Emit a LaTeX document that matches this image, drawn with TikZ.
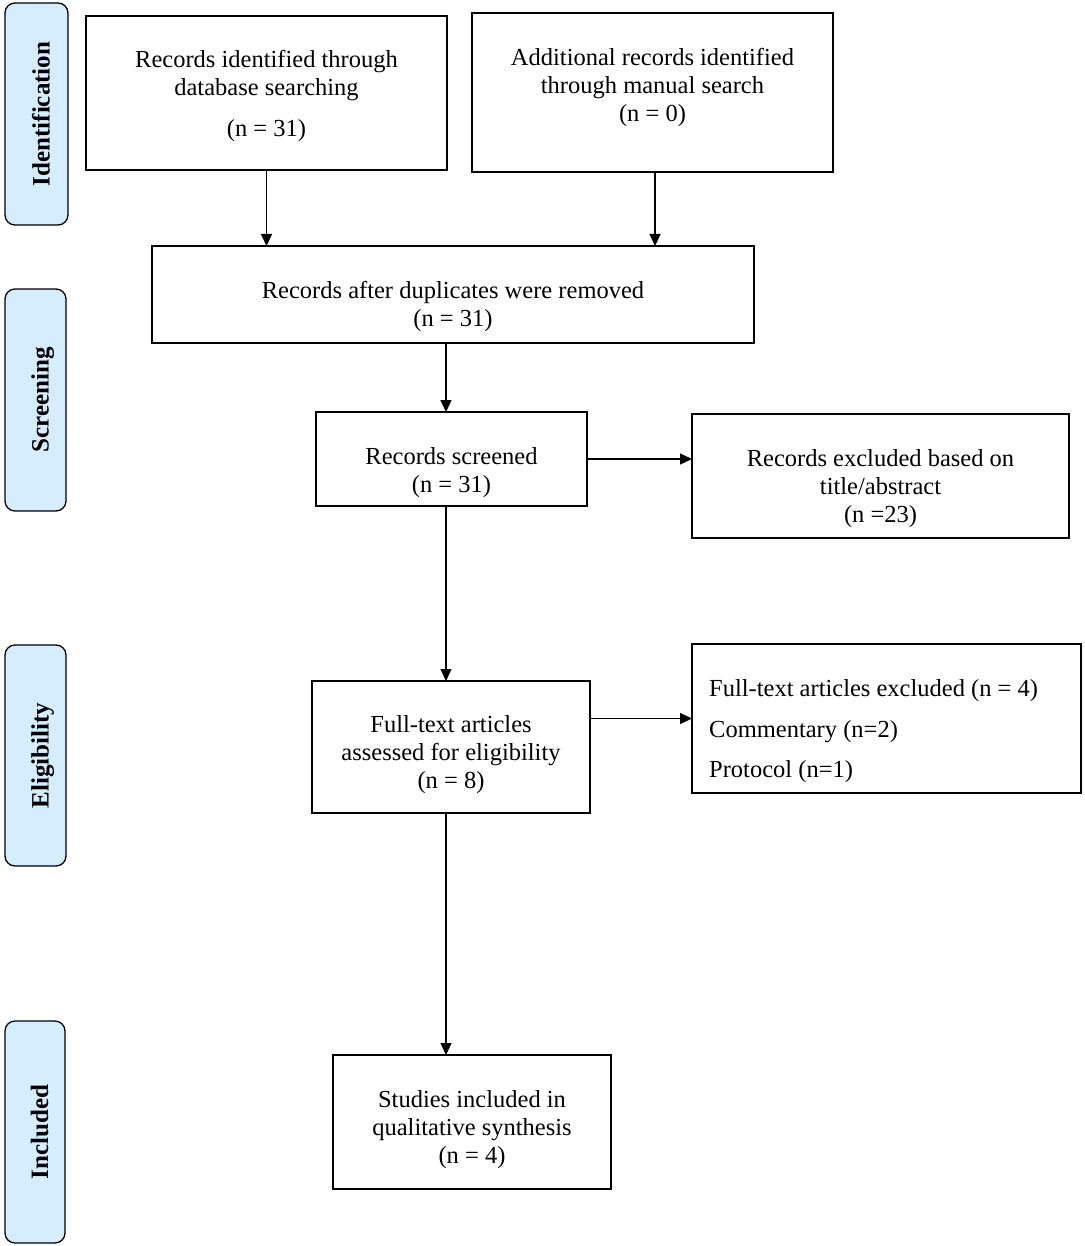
\documentclass[tikz,border=0pt]{standalone}
\usepackage{fontspec}
\setmainfont{Liberation Serif}
\usetikzlibrary{arrows.meta,calc}
\definecolor{sidefill}{RGB}{214,237,255}
\tikzset{
  box/.style={draw=black, line width=1.3pt, inner sep=0pt, outer sep=0pt},
  txt/.style={align=center, inner sep=0pt, font=\fontsize{24.5}{28}\selectfont},
  sidebox/.style={draw=black, line width=1.3pt, fill=sidefill, rounded corners=10pt, rotate=90,
    inner sep=0pt, outer sep=0pt, text height=26pt, text depth=0pt, font=\fontsize{25}{28}\selectfont\bfseries},
  arr/.style={line width=1.3pt, -{Triangle[length=12pt,width=11pt]}}
}
\begin{document}
\begin{tikzpicture}[x=1pt,y=-1pt]
\useasboundingbox (0,0) rectangle (1084,1246);
% side labels
\node[sidebox, minimum width=222, minimum height=63] (S1) at (36.5,114) {Identification};
\node[sidebox, minimum width=222, minimum height=61] (S2) at (35.5,400) {Screening};
\node[sidebox, minimum width=221, minimum height=61] (S3) at (35.5,755.5) {Eligibility};
\node[sidebox, minimum width=222, minimum height=60] (S4) at (35,1132) {Included};
% boxes
\node[box, minimum width=361, minimum height=154] (A) at (266.5,93) {};
\node[txt] (At) at ($(A.center)+(0,3)$) {Records identified through\\database searching\\[13pt](n = 31)};
\node[box, minimum width=361, minimum height=159] (B) at (652.5,92.5) {};
\node[txt] (Bt) at ($(B.center)+(0,-5)$) {Additional records identified\\through manual search\\(n = 0)};
\node[box, minimum width=602, minimum height=97] (C) at (453,294.5) {};
\node[txt] (Ct) at ($(C.center)+(0,12)$) {Records after duplicates were removed\\(n = 31)};
\node[box, minimum width=271, minimum height=94] (D) at (451.5,459) {};
\node[txt] (Dt) at ($(D.center)+(0,14)$) {Records screened\\(n = 31)};
\node[box, minimum width=377, minimum height=124] (E) at (880.5,476) {};
\node[txt] (Et) at ($(E.center)+(0,13)$) {Records excluded based on\\title/abstract\\(n =23)};
\node[box, minimum width=278, minimum height=132] (F) at (451,747) {};
\node[txt] (Ft) at ($(F.center)+(0,8)$) {Full-text articles\\assessed for eligibility\\(n = 8)};
\node[box, minimum width=389, minimum height=149] (G) at (886.5,718.5) {};
\node[txt, align=left, anchor=west, font=\fontsize{24.5}{40.5}\selectfont] (Gt) at ($(G.west)+(17,13)$) {Full-text articles excluded (n = 4)\\Commentary (n=2)\\Protocol (n=1)};
\node[box, minimum width=278, minimum height=134] (H) at (472,1122) {};
\node[txt] (Ht) at ($(H.center)+(0,8)$) {Studies included in\\qualitative synthesis\\(n = 4)};
% connectors
\coordinate (spine) at (446,0);
\coordinate (spineB) at (655,0);
\draw[arr] (A.south) -- (A.south |- C.north);
\draw[arr] (B.south -| spineB) -- (C.north -| spineB);
\draw[arr] (C.south -| spine) -- (D.north -| spine);
\draw[arr] (D.east) -- (D.east -| E.west);
\draw[arr] (D.south -| spine) -- (F.north -| spine);
\draw[arr] (G.west -| F.east) -- (G.west);
\draw[arr] (F.south -| spine) -- (H.north -| spine);
\end{tikzpicture}
\end{document}
